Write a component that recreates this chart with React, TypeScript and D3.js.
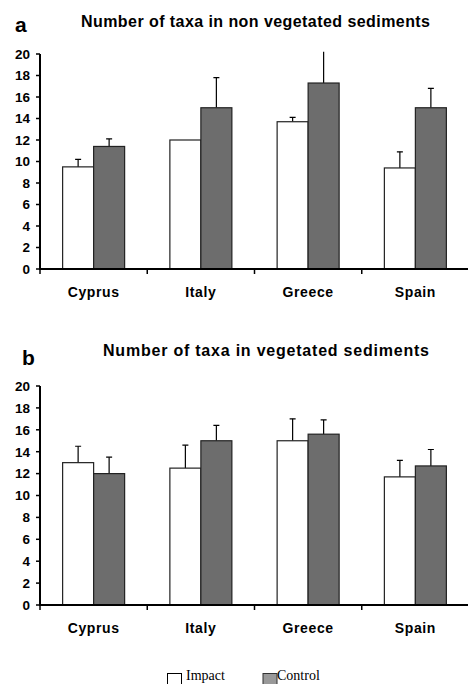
import React from "react";
import * as d3 from "d3";

const countries = ["Cyprus", "Italy", "Greece", "Spain"];
const series = ["Impact", "Control"];
const yTicks = [0, 2, 4, 6, 8, 10, 12, 14, 16, 18, 20];

// Panel a: non vegetated sediments
const nonVegImpact = [9.5, 12.0, 13.7, 9.4];
const nonVegImpactErr = [10.2, 12.0, 14.1, 10.9];
const nonVegControl = [11.4, 15.0, 17.3, 15.0];
const nonVegControlErr = [12.1, 17.8, 20.6, 16.8];

// Panel b: vegetated sediments
const vegImpact = [13.0, 12.5, 15.0, 11.7];
const vegImpactErr = [14.5, 14.6, 17.0, 13.2];
const vegControl = [12.0, 15.0, 15.6, 12.7];
const vegControlErr = [13.5, 16.4, 16.9, 14.2];

const FONT = "'Liberation Sans', Arial, sans-serif";
const DARK = "#6d6d6d";

type PanelProps = {
  id: string;
  letter: string;
  letterY: number;
  letterX: number;
  title: string;
  titleX: number;
  titleY: number;
  titleLen: number;
  y0: number;
  y20: number;
  impact: number[];
  impactErr: number[];
  control: number[];
  controlErr: number[];
};

function Panel(p: PanelProps) {
  const x = d3.scaleBand<string>().domain(countries).range([40, 469]).paddingInner(0).paddingOuter(0);
  const y = d3.scaleLinear().domain([0, 20]).range([p.y0, p.y20]);
  const barW = 31;
  const clipTop = y(20.2);
  const rows = countries.map((c, i) => ({ c, vals: [p.impact[i], p.control[i]], errs: [p.impactErr[i], p.controlErr[i]] }));
  return (
    <g>
      <defs>
        <clipPath id={`clip-${p.id}`}>
          <rect x={40} y={clipTop} width={430} height={p.y0 - clipTop} />
        </clipPath>
      </defs>
      <text x={p.letterX} y={p.letterY} fontFamily={FONT} fontWeight="bold" fontSize={21}>{p.letter}</text>
      <text x={p.titleX} y={p.titleY} fontFamily={FONT} fontWeight="bold" fontSize={16}
        textLength={p.titleLen} lengthAdjust="spacing">{p.title}</text>
      {/* bars */}
      <g clipPath={`url(#clip-${p.id})`}>
        {rows.map((r) => {
          const cx = (x(r.c) as number) + x.bandwidth() / 2;
          return r.vals.map((v, k) => {
            const bx = k === 0 ? cx - barW : cx;
            const ex = bx + barW / 2;
            const e = r.errs[k];
            return (
              <g key={r.c + k}>
                {e > v && (
                  <g stroke="#000" strokeWidth={1.2}>
                    <line x1={ex} x2={ex} y1={y(v)} y2={y(e)} />
                    <line x1={ex - 3} x2={ex + 3} y1={y(e)} y2={y(e)} />
                  </g>
                )}
                <rect x={bx} y={y(v)} width={barW} height={p.y0 - y(v)}
                  fill={k === 0 ? "#fff" : DARK} stroke="#222" strokeWidth={1.2} />
              </g>
            );
          });
        })}
      </g>
      {/* y axis */}
      <line x1={40} x2={40} y1={y(20)} y2={p.y0} stroke="#000" strokeWidth={2} />
      {yTicks.map((t) => (
        <g key={t}>
          <line x1={36} x2={40} y1={y(t)} y2={y(t)} stroke="#000" strokeWidth={1.5} />
          <text x={30} y={y(t)} dy="0.36em" textAnchor="end" fontFamily={FONT} fontWeight="bold" fontSize={13.5}>{t}</text>
        </g>
      ))}
      {/* x axis */}
      <line x1={39} x2={469} y1={p.y0} y2={p.y0} stroke="#000" strokeWidth={2} />
      {countries.map((c) => (
        <line key={c} x1={x(c) as number} x2={x(c) as number} y1={p.y0} y2={p.y0 + 5} stroke="#000" strokeWidth={1.5} />
      ))}
      {countries.map((c) => (
        <text key={c + "l"} x={(x(c) as number) + x.bandwidth() / 2} y={p.y0 + 28} textAnchor="middle"
          fontFamily={FONT} fontWeight="bold" fontSize={14} letterSpacing={0.6}>{c}</text>
      ))}
    </g>
  );
}

export default function App() {
  return (
    <svg width={468} height={684} style={{ position: "absolute", left: 0, top: 0, background: "#fff" }}>
      <rect width={468} height={684} fill="#fff" />
      <Panel id="a" letter="a" letterX={15} letterY={32} title="Number of taxa in non vegetated sediments"
        titleX={81} titleY={27} titleLen={349} y0={269} y20={54}
        impact={nonVegImpact} impactErr={nonVegImpactErr} control={nonVegControl} controlErr={nonVegControlErr} />
      <Panel id="b" letter="b" letterX={22} letterY={365} title="Number of taxa in vegetated sediments"
        titleX={103} titleY={356} titleLen={326} y0={605} y20={386}
        impact={vegImpact} impactErr={vegImpactErr} control={vegControl} controlErr={vegControlErr} />
      {/* legend */}
      <g>
        <rect x={167.5} y={673.5} width={14} height={12} fill="#fff" stroke="#000" strokeWidth={1} />
        <text x={186} y={680} fontFamily="'Liberation Serif', 'Times New Roman', serif" fontSize={14}>{series[0]}</text>
        <rect x={263} y={673.5} width={14} height={12} fill="#999" stroke="#333" strokeWidth={1} />
        <text x={277} y={680} fontFamily="'Liberation Serif', 'Times New Roman', serif" fontSize={14}>{series[1]}</text>
      </g>
    </svg>
  );
}
